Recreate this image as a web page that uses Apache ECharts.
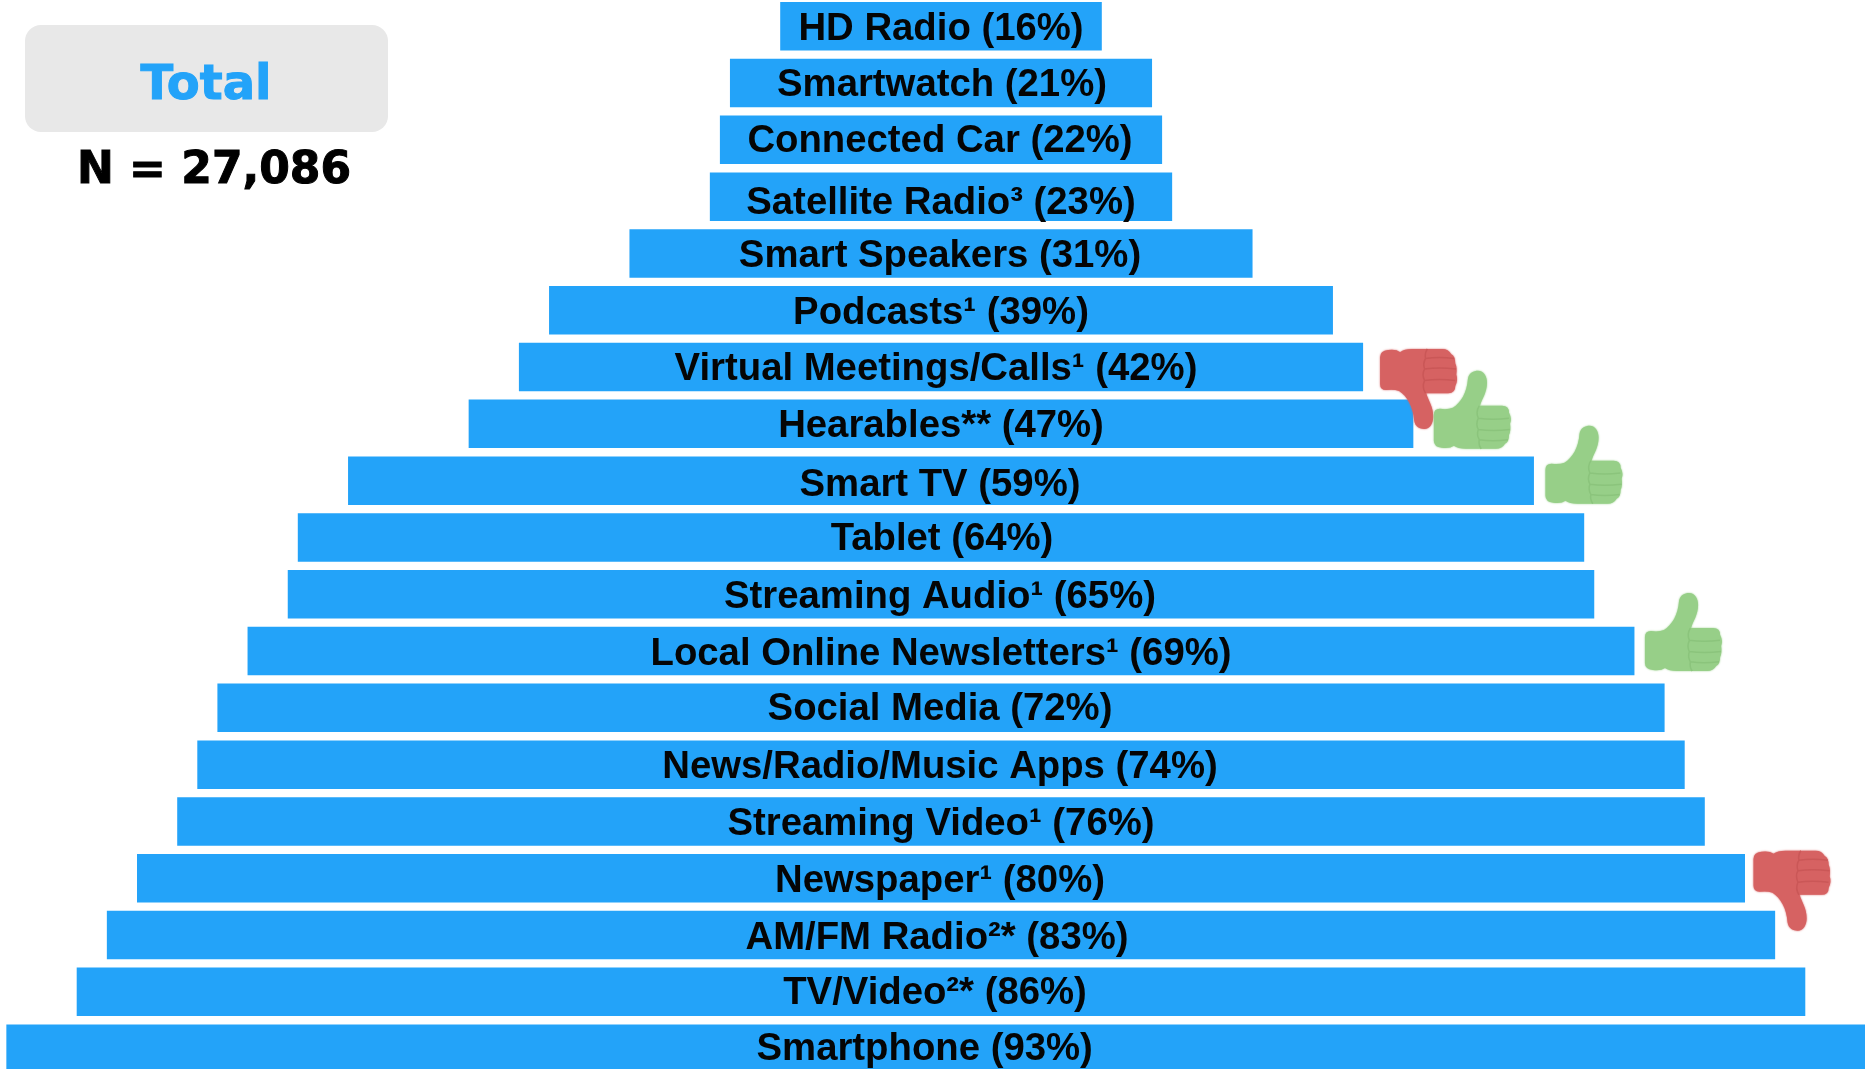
<!DOCTYPE html>
<html><head><meta charset="utf-8">
<style>html,body{margin:0;padding:0;background:#fff}#c{width:1865px;height:1069px}</style>
<script src="https://cdn.jsdelivr.net/npm/echarts@6/dist/echarts.min.js"></script>
</head><body><div id="c"></div>
<script>
const categories = ['HD Radio','Smartwatch','Connected Car','Satellite Radio³','Smart Speakers','Podcasts¹','Virtual Meetings/Calls¹','Hearables**','Smart TV','Tablet','Streaming Audio¹','Local Online Newsletters¹','Social Media','News/Radio/Music Apps','Streaming Video¹','Newspaper¹','AM/FM Radio²*','TV/Video²*','Smartphone'];
const values = [16,21,22,23,31,39,42,47,59,64,65,69,72,74,76,80,83,86,93];
const labelShiftX = [0,1,-1,0,-1,0,-5,0,-1,1,-1,0,-1,-1,0,-1,-4,-6,-11];
const labelShiftY = [3,2,2,7,3,3,2,3,5,2,3,3,2,3,3,3,3,2,1];
const thumbCategories = ['Virtual Meetings/Calls¹','Hearables**','Smart TV','Local Online Newsletters¹','Newspaper¹'];
const thumbDirections = ['down','up','up','up','down'];
const thumbGapX = [17,20.5,11.5,10.5,8.5];
const thumbShiftY = [-18,-53,-55,-58,-27.5];
const scalePerUnit = 20.1, plotW = 1865, centreX = 941;
const axisMax = plotW / scalePerUnit, centre = centreX / scalePerUnit;

const BLUE = '#23a3f9';
const thumbOutline = 'M6,38 Q14,39 19,37 C27,32 33,22 34,8 C35,2 40,0 44,0 C50,0 53,6 53,12 C53,22 48,28 46,35 L68,35 Q75,35 75,42 Q78,48 76,53 Q77,60 75,64 Q75,71 71,73 Q68,78 62,78 L32,78 Q24,78 20,75 Q16,78 8,77 Q0,76 0,70 L0,44 Q0,38 6,38 Z';
const thumbLines = 'M44,36 Q40,42 43,48 Q40,54 43,59 Q41,64 44,69 Q43,74 46,78 M43,48 Q58,50 75,48 M43,59 Q58,61 76,59 M44,69 Q58,71 74,69';

function renderThumb(params, api) {
  const i = params.dataIndex;
  const idx = categories.indexOf(thumbCategories[i]);
  const p = api.coord([centre + values[idx] / 2, idx]);
  const up = thumbDirections[i] === 'up';
  const fill = up ? '#97cf88' : '#d66262', line = up ? '#8bc47c' : '#ca5757';
  const x = p[0] + thumbGapX[i], y = p[1] + thumbShiftY[i];
  return { type:'group', x:x, y: up ? y : y + 80, scaleY: up ? 1 : -80/78, children:[
    { type:'path', shape:{pathData:thumbOutline, x:0, y:0, width:77, height:78, layout:'cover'}, style:{fill:fill, shadowBlur:2, shadowColor:fill} },
    { type:'path', shape:{pathData:thumbLines, x:43, y:35, width:33, height:43, layout:'cover'}, style:{fill:'none', stroke:line, lineWidth:1.5} }
  ]};
}

const chart = echarts.init(document.getElementById('c'), null, {renderer:'canvas'});
chart.setOption({
  animation:false,
  backgroundColor:'#fff',
  grid:{left:0, width:plotW, top:-2.15, height:1079.2, outerBoundsMode:'none'},
  xAxis:{type:'value', min:0, max:axisMax, show:false},
  yAxis:{type:'category', data:categories, inverse:true, show:false},
  series:[
    {type:'bar', stack:'p', silent:true, barWidth:48.5, itemStyle:{color:'transparent'},
     data:values.map(v => centre - v/2)},
    {type:'bar', stack:'p', silent:true, barWidth:48.5, itemStyle:{color:BLUE},
     data:values.map((v,i) => ({value:v, label:{offset:[labelShiftX[i], labelShiftY[i]]}})),
     label:{show:true, position:'inside', color:'#050505',
       fontFamily:'"Liberation Sans", Arial, sans-serif', fontWeight:'bold', fontSize:38.3,
       formatter:p => categories[p.dataIndex] + ' (' + values[p.dataIndex] + '%)'}},
    {type:'custom', silent:true, z:5, clip:false, renderItem:renderThumb,
     data:thumbCategories.map(c => [values[categories.indexOf(c)], categories.indexOf(c)])}
  ],
  graphic:{elements:[
    {type:'rect', shape:{x:25,y:25,width:363,height:107,r:16}, style:{fill:'#e8e8e8'}},
    {type:'text', x:206, y:86.5, style:{text:'Total', fill:BLUE, stroke:BLUE, lineWidth:1, font:'bold 48px "DejaVu Sans"', align:'center', verticalAlign:'middle'}},
    {type:'text', x:214, y:171.5, style:{text:'N = 27,086', fill:'#000', stroke:'#000', lineWidth:1, font:'bold 44px "DejaVu Sans"', align:'center', verticalAlign:'middle'}}
  ]}
});
</script></body></html>
